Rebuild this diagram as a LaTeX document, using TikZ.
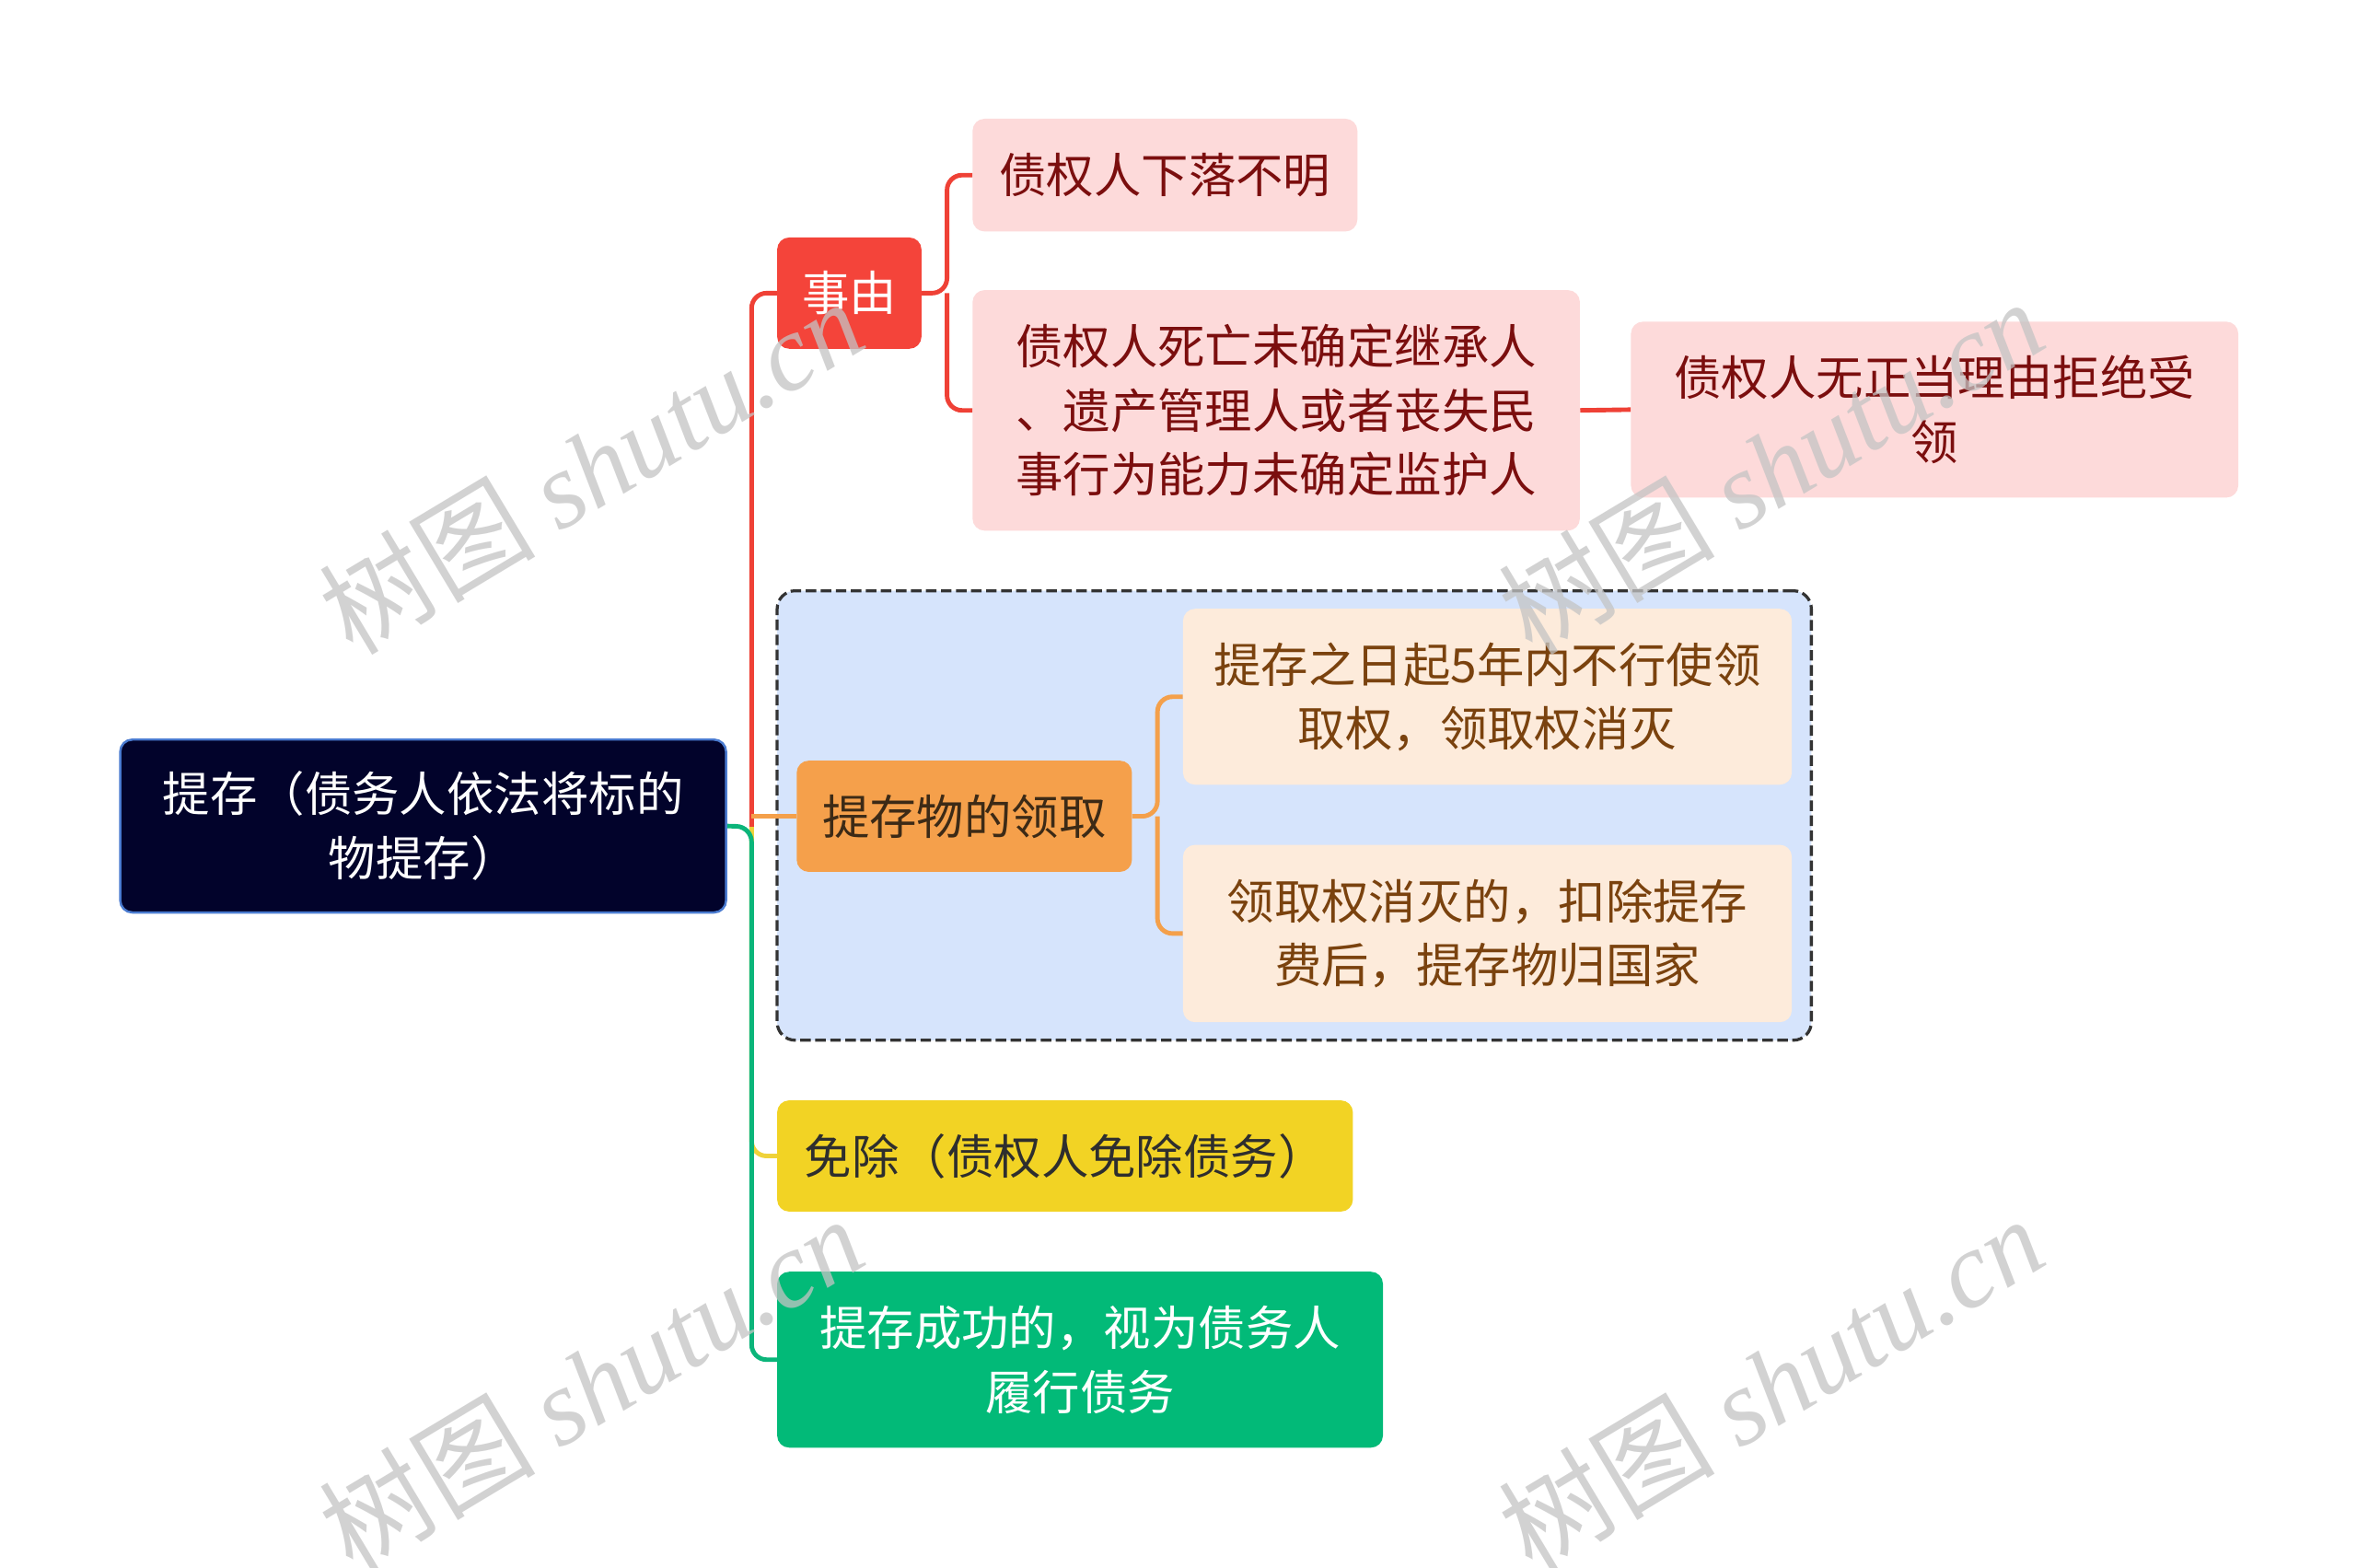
\documentclass[tikz,border=0pt]{standalone}
\usepackage{fontspec}
\setmainfont{Noto Sans CJK SC}
\newfontfamily\wmlatin{Liberation Serif}
\newfontfamily\wmcjk{Noto Sans CJK SC}
\definecolor{rootfill}{HTML}{02032B}
\definecolor{rootborder}{HTML}{4A7BD0}
\definecolor{redfill}{HTML}{F4443A}
\definecolor{pinkfill}{HTML}{FDDADA}
\definecolor{pinktext}{HTML}{7B0E0E}
\definecolor{grpfill}{HTML}{D6E4FC}
\definecolor{grpborder}{HTML}{333333}
\definecolor{orangefill}{HTML}{F5A04B}
\definecolor{orangetext}{HTML}{3C2A16}
\definecolor{peachfill}{HTML}{FDEBDB}
\definecolor{peachtext}{HTML}{7A420E}
\definecolor{yellowfill}{HTML}{F2D324}
\definecolor{yellowtext}{HTML}{2E2E2E}
\definecolor{greenfill}{HTML}{02BA78}
\definecolor{lred}{HTML}{EF4136}
\definecolor{lorange}{HTML}{F4A04B}
\definecolor{lyellow}{HTML}{EFD23A}
\definecolor{lgreen}{HTML}{0BB57A}
\definecolor{wmgray}{HTML}{C4C4C4}
\begin{document}
\begin{tikzpicture}[x=1pt,y=-1pt,
  box/.style={rounded corners=8pt, inner sep=0pt, align=center,
    font=\fontsize{31.5pt}{42.5pt}\selectfont},
  link/.style={line width=3pt, rounded corners=10pt},
  wm/.style={rotate=31, text=wmgray, text opacity=0.75, inner sep=0pt,
    font=\fontsize{72pt}{76pt}\selectfont}
]
\useasboundingbox[fill=white] (0,0) rectangle (1568,1043);

% group container
\node[draw=grpborder, dashed, dash pattern=on 7pt off 3pt, line width=2pt,
  fill=grpfill, rounded corners=12pt, minimum width=688pt, minimum height=299pt]
  (grp) at (861,542.5) {};

% nodes
\node[box, fill=rootfill, draw=rootborder, line width=1.5pt, text=white,
  minimum width=403pt, minimum height=115pt] (root) at (281.5,549.5)
  {提存（债务人依法将标的\\物提存）};
\node[box, fill=redfill, text=white, minimum width=96pt, minimum height=74pt]
  (shiyou) at (565,195) {事由};
\node[box, fill=pinkfill, text=pinktext, minimum width=256pt, minimum height=75pt]
  (n3) at (775,116.5) {债权人下落不明};
\node[box, fill=pinkfill, text=pinktext, minimum width=404pt, minimum height=160pt]
  (n4) at (849,273) {债权人死亡未确定继承人\\、遗产管理人或者丧失民\\事行为能力未确定监护人};
\node[box, fill=pinkfill, text=pinktext, minimum width=404pt, minimum height=117pt]
  (n5) at (1287,272.5) {债权人无正当理由拒绝受\\领};
\node[box, fill=orangefill, text=orangetext, minimum width=223pt, minimum height=74pt]
  (n7) at (641.5,543) {提存物的领取};
\node[box, fill=peachfill, text=peachtext, minimum width=405pt, minimum height=117pt]
  (n8) at (989.5,463.5) {提存之日起5年内不行使领\\取权，领取权消灭};
\node[box, fill=peachfill, text=peachtext, minimum width=405pt, minimum height=118pt]
  (n9) at (989.5,621) {领取权消灭的，扣除提存\\费后，提存物归国家};
\node[box, fill=yellowfill, text=yellowtext, minimum width=383pt, minimum height=74pt]
  (n10) at (708.5,769) {免除（债权人免除债务）};
\node[box, fill=greenfill, text=white, minimum width=403pt, minimum height=117pt]
  (n11) at (718.5,904.5) {提存成功的，视为债务人\\履行债务};

% junctions
\coordinate (j) at (500,550);
\coordinate (j2) at (630,195);
\coordinate (j3) at (770,543);

% connectors
\draw[link, lyellow] (j) |- (n10.west);
\draw[link, lgreen] (root.east) -- (j) |- (n11.west);
\draw[link, lred] (j) |- (shiyou.west);
\draw[link, lorange] (j |- n7.west) -- (n7.west);
\draw[link, lred] (shiyou.east) -- (j2) |- (n3.west);
\draw[link, lred] (j2) |- (n4.west);
\draw[link, lred] (n4.east) -- (n5.west);
\draw[link, lorange] (n7.east) -- (j3) |- (n8.west);
\draw[link, lorange] (j3) |- (n9.west);

% watermarks
\node[wm] (wm1) at (393,310) {{\wmcjk 树图} {\wmlatin\itshape shutu.cn}};
\node[wm] (wm2) at (1178,310) {{\wmcjk 树图} {\wmlatin\itshape shutu.cn}};
\node[wm] (wm3) at (393,920) {{\wmcjk 树图} {\wmlatin\itshape shutu.cn}};
\node[wm] (wm4) at (1178,920) {{\wmcjk 树图} {\wmlatin\itshape shutu.cn}};
\end{tikzpicture}
\end{document}
